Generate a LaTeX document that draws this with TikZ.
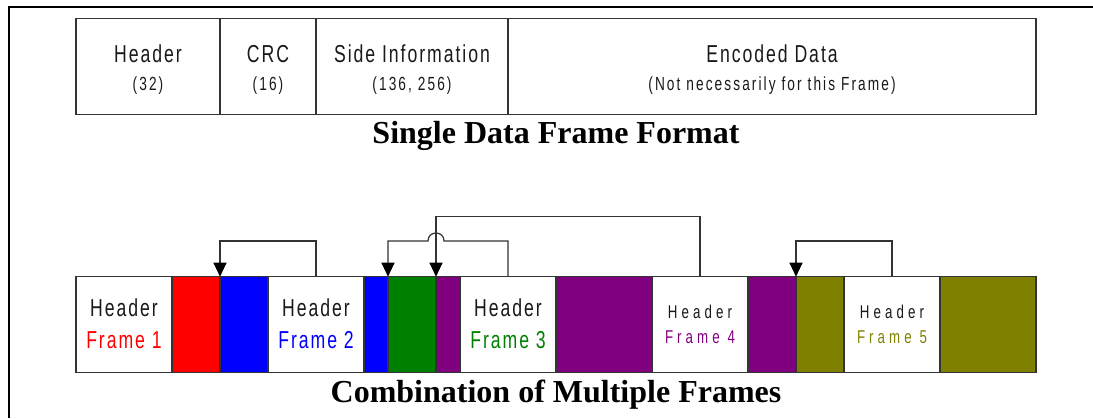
\documentclass[tikz,border=0pt]{standalone}
\usepackage{fontspec}
\usetikzlibrary{arrows.meta}
\newfontfamily\condA{Liberation Sans}[FakeStretch=0.72,LetterSpace=8]
\newfontfamily\condS{Liberation Sans}[FakeStretch=0.72,LetterSpace=11]
\newfontfamily\condB{Liberation Sans}[FakeStretch=0.72,LetterSpace=22]
\newfontfamily\ttlfont{Liberation Serif}
\definecolor{fred}{HTML}{FF0000}
\definecolor{fblue}{HTML}{0000FF}
\definecolor{fgreen}{HTML}{008000}
\definecolor{fpurple}{HTML}{800080}
\definecolor{folive}{HTML}{808000}
\definecolor{edge}{HTML}{333333}
\begin{document}
\begin{tikzpicture}[x=1pt,y=-1pt,
  seg/.style={draw=edge, line width=1.3pt, minimum height=96pt, inner sep=0pt, outer sep=0pt, anchor=north west},
  bigtxt/.style={font=\condA\fontsize{24.5}{28}\selectfont, anchor=base, inner sep=0pt, text=black!90},
  smalltxt/.style={font=\condS\fontsize{19}{22}\selectfont, anchor=base, inner sep=0pt, text=black!90},
  midtxt/.style={font=\condB\fontsize{18.5}{22}\selectfont, anchor=base, inner sep=0pt, text=black!90},
  ttl/.style={font=\ttlfont\bfseries\fontsize{32}{38}\selectfont, anchor=base, inner sep=0pt},
  conn/.style={draw=edge, line width=1.2pt},
  arr/.style={conn, -{Triangle[width=13pt,length=14pt,fill=black,color=black]}}
]
\useasboundingbox (0,0) rectangle (1093,418);
\draw[line width=2pt] (9,418) -- (9,7.3) -- (1093,7.3);

% single frame format
\node[seg, minimum width=144pt] (hd) at (76,18.3) {};
\node[seg, minimum width=96pt] (crc) at (220,18.3) {};
\node[seg, minimum width=192pt] (side) at (316,18.3) {};
\node[seg, minimum width=528pt] (enc) at (508,18.3) {};
\node[bigtxt] (hdA) at (hd.center |- 0,62.5) {Header};
\node[smalltxt] (hdB) at (hd.center |- 0,90) {(32)};
\node[bigtxt] (crcA) at (crc.center |- 0,62.5) {CRC};
\node[smalltxt] (crcB) at (crc.center |- 0,90) {(16)};
\node[bigtxt] (sideA) at (side.center |- 0,62.5) {Side Information};
\node[smalltxt] (sideB) at (side.center |- 0,90) {(136, 256)};
\node[bigtxt] (encA) at (enc.center |- 0,62.5) {Encoded Data};
\node[smalltxt] (encB) at (enc.center |- 0,90) {(Not necessarily for this Frame)};
\node[ttl] (t1) at (556,143) {Single Data Frame Format};

% combination of frames
\node[seg, minimum width=96pt, fill=white] (b1) at (76,276.7) {};
\node[seg, minimum width=48pt, fill=fred] (b2) at (172,276.7) {};
\node[seg, minimum width=48pt, fill=fblue] (b3) at (220,276.7) {};
\node[seg, minimum width=96pt, fill=white] (b4) at (268,276.7) {};
\node[seg, minimum width=24pt, fill=fblue] (b5) at (364,276.7) {};
\node[seg, minimum width=48pt, fill=fgreen] (b6) at (388,276.7) {};
\node[seg, minimum width=24pt, fill=fpurple] (b7) at (436,276.7) {};
\node[seg, minimum width=96pt, fill=white] (b8) at (460,276.7) {};
\node[seg, minimum width=96pt, fill=fpurple] (b9) at (556,276.7) {};
\node[seg, minimum width=96pt, fill=white] (b10) at (652,276.7) {};
\node[seg, minimum width=48pt, fill=fpurple] (b11) at (748,276.7) {};
\node[seg, minimum width=48pt, fill=folive] (b12) at (796,276.7) {};
\node[seg, minimum width=96pt, fill=white] (b13) at (844,276.7) {};
\node[seg, minimum width=96pt, fill=folive] (b14) at (940,276.7) {};

\node[bigtxt] (h1) at (b1.center |- 0,316) {Header};
\node[bigtxt, text=fred] (f1) at (b1.center |- 0,348.3) {Frame 1};
\node[bigtxt] (h2) at (b4.center |- 0,316) {Header};
\node[bigtxt, text=fblue] (f2) at (b4.center |- 0,348.3) {Frame 2};
\node[bigtxt] (h3) at (b8.center |- 0,316) {Header};
\node[bigtxt, text=fgreen] (f3) at (b8.center |- 0,348.3) {Frame 3};
\node[midtxt] (h4) at (b10.center |- 0,318.3) {Header};
\node[midtxt, text=fpurple] (f4) at (b10.center |- 0,343.3) {Frame 4};
\node[midtxt] (h5) at (b13.center |- 0,318.3) {Header};
\node[midtxt, text=folive] (f5) at (b13.center |- 0,343.3) {Frame 5};
\node[ttl] (t2) at (556,402.5) {Combination of Multiple Frames};

% connectors
\coordinate (lv1) at (0,241);
\coordinate (lv2) at (0,216.7);
\coordinate (jx) at (b7.north west |- lv1);
\draw[arr] (b4.north) -- (b4.north |- lv1) -| (b3.north west);
\draw[arr] (b8.north) -- (b8.north |- lv1) -- ([xshift=8pt]jx)
  .. controls +(0,-10.7) and +(0,-10.7) .. ([xshift=-8pt]jx)
  -- (b6.north west |- lv1) -- (b6.north west);
\draw[arr] (b10.north) -- (b10.north |- lv2) -| (b7.north west);
\draw[arr] (b13.north) -- (b13.north |- lv1) -| (b12.north west);
\end{tikzpicture}
\end{document}
